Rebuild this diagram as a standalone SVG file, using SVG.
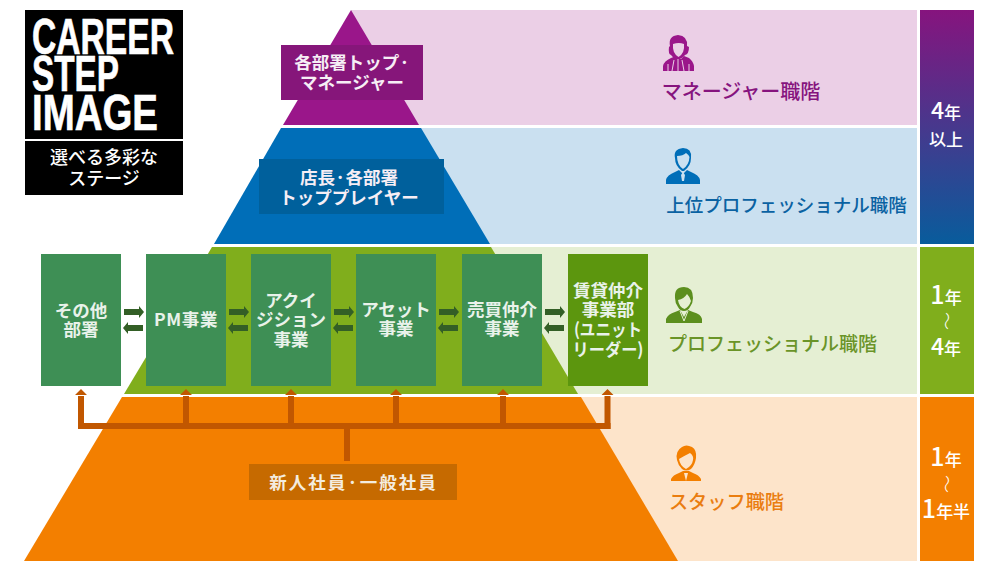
<svg xmlns="http://www.w3.org/2000/svg" width="998" height="565" viewBox="0 0 998 565">
<style>
text{font-family:"Noto Sans CJK JP","Noto Sans",sans-serif;font-weight:700;text-anchor:middle;fill:#fff}
.b{font-size:17.500px;fill:#e9f2ea}
.l{font-size:17.500px;font-weight:700;fill:#f6eef5}
.r{font-weight:500}
.logo{font-family:"Liberation Sans Narrow","Liberation Sans",sans-serif;font-size:50px;text-anchor:start;stroke:#fff;stroke-width:.7px}
.sub{font-size:18px;font-weight:500}
.box{fill:#3e8f55}
.conn{fill:none;stroke:#c15700;stroke-width:6}
.d1{font-size:23px;font-weight:500}
.d2{font-size:17px;font-weight:500}
.w{font-size:18px;font-weight:300}
</style>
<defs>
<linearGradient id="g" x1="0" y1="0" x2="0" y2="1"><stop offset="0" stop-color="#86147e"/><stop offset="1" stop-color="#085c9c"/></linearGradient>
<path id="ar" d="M-10-3H5V-6L10 0 5 6V3H-10Z" fill="#335f26"/>
</defs>
<g id="bands">
<rect x="351" y="10" width="566" height="115" fill="#ebcfe6"/>
<rect x="351" y="128" width="566" height="116" fill="#cae0f0"/>
<rect x="351" y="247" width="566" height="147" fill="#e5efd3"/>
<rect x="351" y="397" width="566" height="164" fill="#fde4ca"/>
</g>
<g id="pyramid">
<path d="M351 10 419 125H283Z" fill="#9a168a"/>
<path d="M281 128H421L490 244H214Z" fill="#006eb8"/>
<path d="M212 247H491L578 394H124Z" fill="#80ae1c"/>
<path d="M122 397H581L678 561H24Z" fill="#f37f00"/>
</g>
<g id="logo">
<rect x="25" y="10" width="158" height="129" fill="#000"/>
<rect x="25" y="141" width="158" height="54" fill="#000"/>
<text class="logo" x="32" y="54" textLength="142" lengthAdjust="spacingAndGlyphs">CAREER</text>
<text class="logo" x="32" y="91" textLength="87" lengthAdjust="spacingAndGlyphs">STEP</text>
<text class="logo" x="32" y="130" textLength="126" lengthAdjust="spacingAndGlyphs">IMAGE</text>
<text x="104" y="164" class="sub">選べる多彩な</text>
<text x="104" y="185" class="sub">ステージ</text>
</g>
<g id="label-manager">
<rect x="281" y="45" width="142" height="55" fill="#86167a"/>
<text x="352" y="69" class="l">各部署トップ·</text>
<text x="352" y="89" class="l">マネージャー</text>
</g>
<g id="label-top">
<rect x="259" y="159" width="185" height="55" fill="#00609c"/>
<text x="349" y="184" class="l">店長·各部署</text>
<text x="349" y="204" class="l">トッププレイヤー</text>
</g>
<g id="connectors">
<use href="#ar" x="134" y="312"/><use href="#ar" transform="translate(133 328) scale(-1 1)"/>
<use href="#ar" x="239" y="312"/><use href="#ar" transform="translate(238 328) scale(-1 1)"/>
<use href="#ar" x="344" y="312"/><use href="#ar" transform="translate(343 328) scale(-1 1)"/>
<use href="#ar" x="449" y="312"/><use href="#ar" transform="translate(448 328) scale(-1 1)"/>
<use href="#ar" x="555" y="312"/><use href="#ar" transform="translate(554 328) scale(-1 1)"/>
<path class="conn" d="M78 426H610.500M347 426V461"/>
<path class="conn" d="M81 429V396M186 429V396M291 429V396M396 429V396M503 429V396M607.500 429V396"/>
<path d="M75 395 81 389 87 395ZM180 395 186 389 192 395ZM285 395 291 389 297 395ZM390 395 396 389 402 395ZM497 395 503 389 509 395ZM601.500 395 607.500 389 613.500 395Z" fill="#c15700"/>
</g>
<g id="node-other"><rect class="box" x="41" y="254" width="80" height="132"/><text class="b" x="81" y="317">その他</text><text class="b" x="81" y="336">部署</text></g>
<g id="node-pm"><rect class="box" x="146" y="254" width="80" height="132"/><text class="b" x="186" y="326" style="letter-spacing:.6px">PM事業</text></g>
<g id="node-acq"><rect class="box" x="251" y="254" width="80" height="132"/><text class="b" x="291" y="307">アクイ</text><text class="b" x="291" y="326">ジション</text><text class="b" x="291" y="346">事業</text></g>
<g id="node-asset"><rect class="box" x="356" y="254" width="80" height="132"/><text class="b" x="396" y="316">アセット</text><text class="b" x="396" y="335">事業</text></g>
<g id="node-sale"><rect class="box" x="462" y="254" width="80" height="132"/><text class="b" x="502" y="316">売買仲介</text><text class="b" x="502" y="335">事業</text></g>
<g id="node-rent"><rect x="568" y="254" width="80" height="132" fill="#5c960e"/><text class="b" x="608" y="297">賃貸仲介</text><text class="b" x="608" y="316">事業部</text><text class="b" x="608" y="336" textLength="68" lengthAdjust="spacingAndGlyphs">(ユニット</text><text class="b" x="608" y="356" textLength="71" lengthAdjust="spacingAndGlyphs">リーダー)</text></g>
<g id="label-staff">
<rect x="249" y="464" width="208" height="36" fill="#c66a00"/>
<text x="353.500" y="489" style="font-size:17.500px;font-weight:700;letter-spacing:2px;fill:#f4ecdf">新人社員·一般社員</text>
</g>
<g id="role-manager">
<path d="M663 71V66Q664 61 671 58L676 56 681 59 684 56 689 58Q693 61 694 66V71Z" fill="#9a168a"/>
<path d="M678 59V71M674 60 672 71M682 60 684 71M668 64V71M689 64V71" stroke="#ebcfe6" fill="none"/>
<path d="M670 46Q668 36 678 35 688 36 687 46L689 47Q689 54 685 55 682 59 678 59 674 59 671 55 668 54 669 47Z" fill="#9a168a"/>
<path d="M673 44Q679 42 684 44 685 53 678.500 57 672 53 673 44Z" fill="#ebcfe6"/>
<text class="r" x="741" y="99" style="font-size:20px;fill:#86147e">マネージャー職階</text>
</g>
<g id="role-upper">
<path d="M666 184V180Q667 175 675 172L679 170 683 174 687 170 691 172Q699 175 700 180V184Z" fill="#006eb8"/>
<path d="M683 172 681 175 682 181H684L685 175Z" fill="#cae0f0"/>
<path d="M675 158Q673 149 683 148 692 148 691 158 691 166 684 171H682Q675 166 675 158Z" fill="#006eb8"/>
<path d="M677 156Q683 156 686 153 689 155 689.500 157 689 165 683 169 677 165 677 156Z" fill="#cae0f0"/>
<text class="r" x="786.500" y="212" style="font-size:18.500px;fill:#0a62a2">上位プロフェッショナル職階</text>
</g>
<g id="role-pro">
<path d="M666 323V319Q668 314 675 312L680 310 684 317 688 310 693 312Q701 314 702 319V323Z" fill="#5c8f1e"/>
<path d="M680 311 684 321 688 311" fill="none" stroke="#e5efd3"/>
<path d="M675 298Q674 287 684 287 693 287 693 298 693 303 690 307 688 311 684 311 680 311 678 307 675 303 675 298Z" fill="#5c8f1e"/>
<path d="M678 300Q684 299 687 294 690 297 691 301 689 307 684.500 309 679 307 678 300Z" fill="#e5efd3"/>
<text class="r" x="772.500" y="351" style="font-size:19px;fill:#6a9428">プロフェッショナル職階</text>
</g>
<g id="role-staff">
<path d="M671 481V479Q673 475 679 473L683 471H689L693 473Q699 475 701 479V481Z" fill="#f37f00"/>
<path d="M684 473 686 481 688 473Z" fill="#fde4ca"/>
<path d="M677 460Q675 451 682 447 686 444 692 447 697 450 696 458 695 465 691 469 686 472 682 469 678 465 677 460Z" fill="#f37f00"/>
<path d="M679 459Q684 456 690 453 694 456 693 460 692 466 686 469 680 466 679 459Z" fill="#fde4ca"/>
<text class="r" x="726.500" y="509" style="font-size:19.200px;fill:#ea7d10">スタッフ職階</text>
</g>
<g id="dur1">
<rect x="920" y="10" width="54" height="234" fill="url(#g)"/>
<text x="946" y="119"><tspan class="d1">4</tspan><tspan class="d2">年</tspan></text>
<text x="946" y="146" class="d2">以上</text>
</g>
<g id="dur2">
<rect x="920" y="247" width="54" height="147" fill="#80ae1c"/>
<text x="946" y="304"><tspan class="d1" style="font-size:25px">1</tspan><tspan class="d2">年</tspan></text>
<text class="w" transform="translate(946 321) rotate(90)" y="6">〜</text>
<text x="946" y="355"><tspan class="d1">4</tspan><tspan class="d2">年</tspan></text>
</g>
<g id="dur3">
<rect x="920" y="397" width="54" height="164" fill="#f37f00"/>
<text x="946" y="466"><tspan class="d1" style="font-size:25px">1</tspan><tspan class="d2">年</tspan></text>
<text class="w" transform="translate(946 484) rotate(90)" y="6">〜</text>
<text x="946" y="518"><tspan class="d1" style="font-size:25px">1</tspan><tspan class="d2">年半</tspan></text>
</g>
</svg>
